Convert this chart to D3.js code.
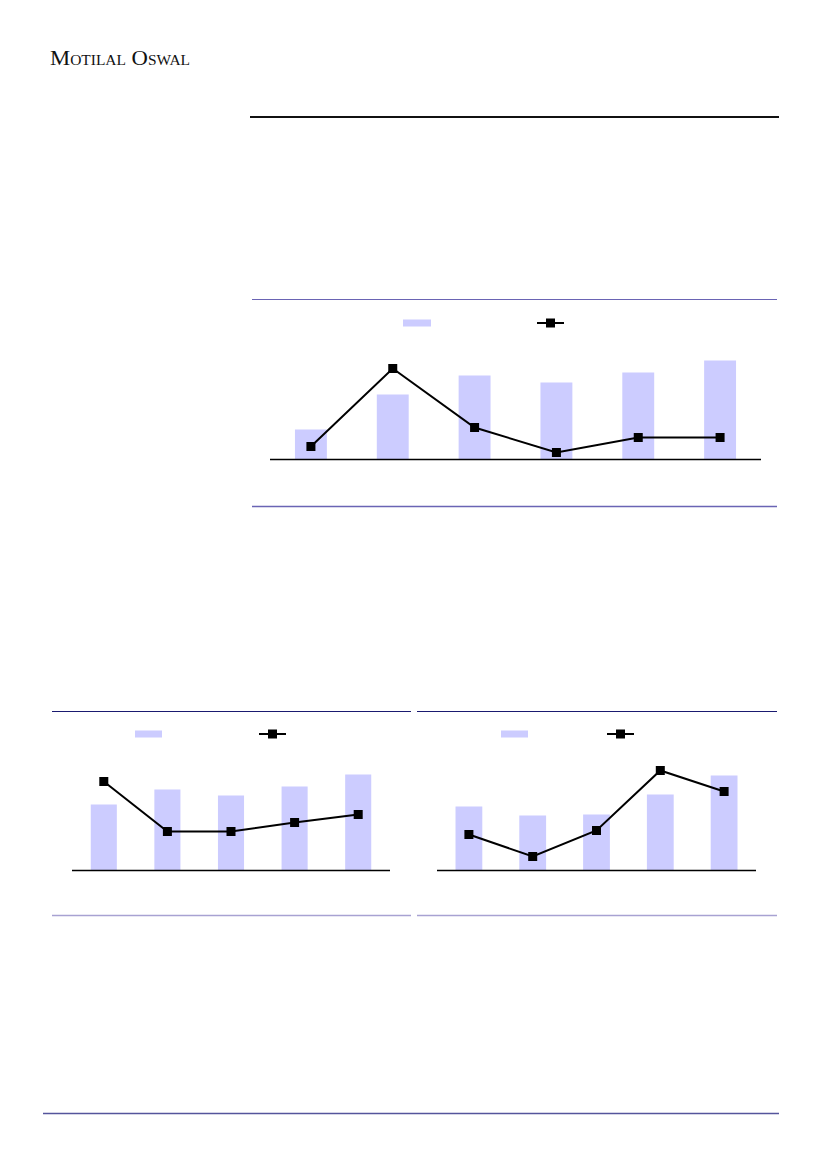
<!DOCTYPE html>
<html><head><meta charset="utf-8">
<script src="https://cdn.jsdelivr.net/npm/d3@7"></script>
<style>html,body{margin:0;padding:0;background:#fff;}svg{display:block;}</style>
</head><body>
<script>
// Chart 1 (top, 6 periods)
const cats1 = ["P1","P2","P3","P4","P5","P6"];
const bars1 = [3.0, 6.5, 8.4, 7.7, 8.7, 9.9];
const line1 = [1.3, 9.1, 3.2, 0.7, 2.2, 2.2];
// Chart 2 (bottom left, 5 periods)
const cats2 = ["P1","P2","P3","P4","P5"];
const bars2 = [6.6, 8.1, 7.5, 8.4, 9.6];
const line2 = [8.9, 3.9, 3.9, 4.8, 5.6];
// Chart 3 (bottom right, 5 periods)
const cats3 = ["P1","P2","P3","P4","P5"];
const bars3 = [6.4, 5.5, 5.6, 7.6, 9.5];
const line3 = [3.6, 1.4, 4.0, 10.0, 7.9];

const W = 827, H = 1169;
const svg = d3.select("body").append("svg").attr("width", W).attr("height", H);

// Header
svg.append("text").attr("x", 50).attr("y", 65)
  .attr("font-family", "Liberation Serif, serif").attr("font-size", 22)
  .attr("textLength", 140).attr("lengthAdjust", "spacingAndGlyphs")
  .style("font-variant", "small-caps").attr("fill", "#111")
  .text("Motilal Oswal");
svg.append("line").attr("x1", 250).attr("x2", 779).attr("y1", 117).attr("y2", 117)
  .attr("stroke", "#111").attr("stroke-width", 2);
// Footer line
svg.append("line").attr("x1", 43).attr("x2", 779).attr("y1", 1113.5).attr("y2", 1113.5)
  .attr("stroke", "#55559c").attr("stroke-width", 1.3);

function frame(x1, x2, yTop, yBot, topColor, botColor) {
  svg.append("line").attr("x1", x1).attr("x2", x2).attr("y1", yTop).attr("y2", yTop)
    .attr("stroke", topColor).attr("stroke-width", 1);
  svg.append("line").attr("x1", x1).attr("x2", x2).attr("y1", yBot).attr("y2", yBot)
    .attr("stroke", botColor).attr("stroke-width", 1.3);
}

function chart(cats, bars, line, o) {
  const x = d3.scaleBand().domain(cats).range([o.x0, o.x1]).paddingInner(o.pad).paddingOuter(o.pad/2);
  const y = d3.scaleLinear().domain([0, 12]).range([o.base, o.base - 120]);
  const g = svg.append("g");
  g.selectAll("rect.bar").data(bars).join("rect")
    .attr("x", (d, i) => x(cats[i]))
    .attr("width", x.bandwidth())
    .attr("y", d => y(d)).attr("height", d => y(0) - y(d))
    .attr("fill", "#ccccff");
  const axis = g.append("g").attr("transform", `translate(0,${o.base})`)
    .call(d3.axisBottom(x).tickSize(0).tickFormat(""));
  axis.select(".domain").attr("stroke", "#000").attr("stroke-width", 1.3)
    .attr("d", `M${o.x0},0H${o.x1}`);
  const cx = (d, i) => x(cats[i]) + x.bandwidth() / 2;
  g.append("path").datum(line)
    .attr("d", d3.line().x(cx).y(d => y(d)))
    .attr("fill", "none").attr("stroke", "#000").attr("stroke-width", 2);
  g.selectAll("rect.mk").data(line).join("rect")
    .attr("x", (d, i) => cx(d, i) - 4.5).attr("y", d => y(d) - 4.5)
    .attr("width", 9).attr("height", 9).attr("fill", "#000");
  // legend
  const L = o.legend;
  g.append("rect").attr("x", L.bx).attr("y", L.y - 3.5).attr("width", L.bw).attr("height", 7).attr("fill", "#ccccff");
  g.append("line").attr("x1", L.lx).attr("x2", L.lx + 27).attr("y1", L.y).attr("y2", L.y)
    .attr("stroke", "#000").attr("stroke-width", 2);
  g.append("rect").attr("x", L.lx + 13.5 - 4.5).attr("y", L.y - 4.5).attr("width", 9).attr("height", 9).attr("fill", "#000");
}

frame(252, 777, 299.5, 506.5, "#6a64b4", "#6a64b4");
chart(cats1, bars1, line1, {x0: 270, x1: 761, base: 459.5, pad: 0.61,
  legend: {bx: 403, bw: 28, lx: 537, y: 323}});

frame(52, 411, 711.5, 915.5, "#1a1a70", "#a8a2d2");
chart(cats2, bars2, line2, {x0: 72, x1: 390, base: 870.5, pad: 0.59,
  legend: {bx: 135, bw: 27, lx: 259, y: 734}});

frame(417, 777, 711.5, 915.5, "#1a1a70", "#a8a2d2");
chart(cats3, bars3, line3, {x0: 437, x1: 756, base: 870.5, pad: 0.58,
  legend: {bx: 501, bw: 27, lx: 607, y: 734}});
</script>
</body></html>
